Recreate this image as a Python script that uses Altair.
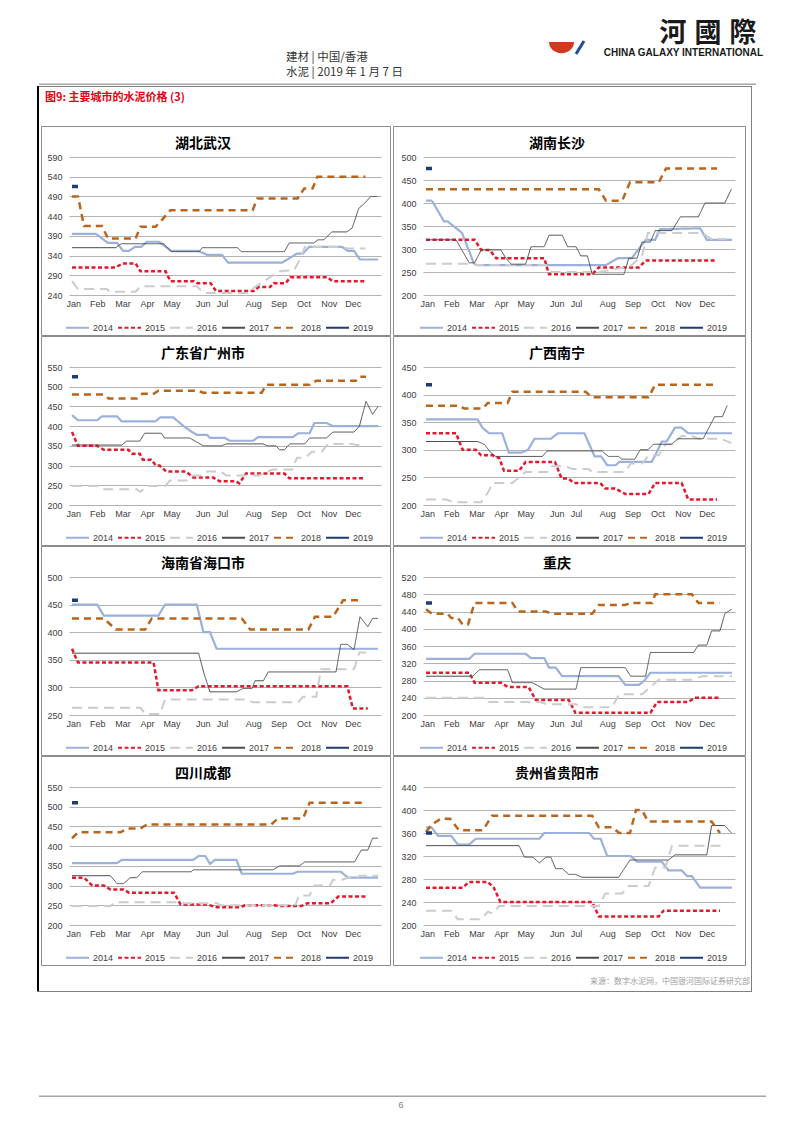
import altair as alt
import pandas as pd

FONT = "Liberation Sans"
CJK = "Noto Sans CJK SC"

YEARS = ["2014", "2015", "2016", "2017", "2018", "2019"]
COLORS = ["#9BB0DB", "#E3192C", "#CCCCCC", "#4D4D4D", "#B8661E", "#1F3C70"]
DASHES = [[1, 0], [4, 2.5], [10, 6], [1, 0], [7, 5], [1, 0]]
WIDTHS = [2.2, 2.5, 2, 1, 2.5, 3.5]

MONTHS = ["Jan", "Feb", "Mar", "Apr", "May", "Jun", "Jul", "Aug", "Sep", "Oct", "Nov", "Dec"]
MONTH_POS = [0.2, 4.2, 8.4, 12.5, 16.6, 21.8, 25.0, 30.2, 34.4, 38.6, 42.8, 46.8]

TITLES = ["湖北武汉", "湖南长沙", "广东省广州市", "广西南宁",
          "海南省海口市", "重庆", "四川成都", "贵州省贵阳市"]

TICKS_WUHAN = [240, 290, 340, 390, 440, 490, 540, 590]
TICKS_CHANGSHA = [200, 250, 300, 350, 400, 450, 500]
TICKS_GUANGZHOU = [200, 250, 300, 350, 400, 450, 500, 550]
TICKS_NANNING = [200, 250, 300, 350, 400, 450]
TICKS_HAIKOU = [250, 300, 350, 400, 450, 500]
TICKS_CHONGQING = [200, 240, 280, 320, 360, 400, 440, 480, 520]
TICKS_CHENGDU = [200, 250, 300, 350, 400, 450, 500, 550]
TICKS_GUIYANG = [200, 240, 280, 320, 360, 400, 440]

# (week index, price) vertices
W_2014 = [(0,395),(4,395),(6,372),(7.5,372),(8.5,352),(9.5,352),(10.5,362),(11.5,362),(12.5,375),(14.5,375),(16,358),(16.5,352),(21,352),(22.5,342),(25,342),(26,322),(35,322),(37.5,345),(38.5,345),(39.5,362),(45,362),(46,352),(47,352),(48,330),(51,330)]
W_2015 = [(0,310),(7.3,310),(8.4,320),(10.6,320),(11.4,300),(15.6,300),(16.4,275),(20.3,275),(20.9,270),(23.1,270),(24,250),(30.3,250),(31.1,260),(33,260),(33.6,270),(35.6,270),(36.4,285),(42.6,285),(43.4,275),(48.9,275)]
W_2016 = [(0,275),(1,255),(5.8,255),(6.3,248),(10.6,248),(11.4,262),(20.8,262),(22,245),(29.2,245),(30.3,258),(33,285),(34.5,300),(37,303),(38,330),(38.8,362),(44.8,362),(46,358),(48.9,358)]
W_2017 = [(0,360),(7.3,360),(8.2,370),(15.3,370),(16.5,350),(21.2,350),(21.7,360),(27.6,360),(28.2,350),(35.4,350),(36.2,372),(40.3,372),(41,380),(42,380),(43.3,400),(45.8,400),(46.7,410),(47.8,460),(48.6,470),(49.8,490),(50.9,490)]
W_2018 = [(0,490),(1,490),(2,415),(5,415),(6,383),(10.6,383),(11.4,413),(13.9,413),(14.8,427),(16.4,455),(30.1,455),(30.9,485),(37.6,485),(38.7,510),(40.1,510),(40.9,540),(48.9,540)]
W_2019 = [(0,515),(1,515)]

C_2014 = [(0,405),(1,405),(3,360),(3.6,360),(6,335),(8,268),(8.5,265),(30,265),(32,280),(34.3,280),(36.6,320),(38.2,320),(39,343),(45.7,345),(46.8,320),(51,320)]
C_2015 = [(0,320),(8.1,320),(9.2,298),(10.6,298),(11.7,280),(19.7,280),(20.5,245),(27.7,245),(28.8,260),(35.5,260),(36.6,275),(48.4,275)]
C_2016 = [(0,268),(8,268),(8.5,265),(20,265),(21,250),(29,250),(31,255),(34,262),(36,285),(37,335),(46,335),(47.5,322),(50,322)]
C_2017 = [(0,320),(5,320),(7.2,270),(8.1,270),(9.2,298),(12.5,298),(13.3,280),(14.2,267),(16.6,267),(17.5,305),(19.7,305),(20.5,330),(22.7,330),(23.6,305),(25,305),(25.8,285),(26.9,285),(27.7,245),(33,245),(33.8,280),(35.2,280),(36,315),(37.4,315),(38.2,340),(41,340),(42.4,370),(45.4,370),(46.5,400),(49.8,400),(50.9,430)]
C_2018 = [(0,430),(28.8,430),(30,405),(32.7,405),(34,445),(38.8,445),(40,475),(48.5,475)]
C_2019 = [(0,475),(1,475)]

G_2014 = [(0,428),(1,415),(4.2,415),(5,425),(7.5,425),(8.3,412),(13.9,412),(14.7,422),(16.9,422),(18.6,400),(20,385),(20.8,378),(22.5,378),(23,370),(25.5,370),(26.3,363),(30.2,363),(31,372),(36.8,372),(37.7,382),(39.6,382),(40.4,408),(42.4,408),(43.5,400),(51,400)]
G_2015 = [(0,385),(1,350),(4.2,350),(5.3,340),(9.4,340),(10,330),(11.3,330),(11.8,315),(13.2,315),(14,300),(14.6,300),(15.7,285),(19,285),(20.2,270),(23.5,270),(24.6,260),(27.3,260),(27.9,255),(29,280),(35.4,280),(36.2,268),(48.9,268)]
G_2016 = [(0,248),(4.1,248),(5.2,240),(10.8,240),(11.4,233),(12.5,248),(15.5,248),(16.3,262),(19.1,262),(19.9,275),(21.8,275),(22.6,285),(24.8,285),(25.7,275),(31.2,275),(33.4,290),(36.7,290),(37.5,320),(38.9,320),(40,335),(41.6,335),(42.7,355),(46.6,355),(47.4,352),(48.5,352)]
G_2017 = [(0,352),(8.3,352),(9.1,362),(11.3,362),(12.1,382),(14.9,382),(15.4,370),(19.6,370),(21.9,350),(24.9,350),(25.7,355),(31.8,355),(32.6,350),(34,350),(34.6,340),(35.4,340),(36.3,355),(38.8,355),(39.6,370),(42.4,370),(43.5,385),(47,385),(47.9,400),(49,463),(50.1,430),(51,450)]
G_2018 = [(0,480),(5.3,480),(6.1,470),(10.8,470),(11.7,482),(13.6,482),(14.4,490),(20.8,490),(21.9,485),(31.6,485),(32.4,505),(39.6,505),(40.7,515),(47.3,515),(47.9,525),(49,525)]
G_2019 = [(0,525),(1,525)]

N_2014 = [(0,355),(8.6,355),(9.4,340),(10.5,330),(12.7,330),(13.8,295),(15.9,295),(17,300),(18.1,320),(20.8,320),(22,330),(26.4,330),(28.1,288),(29.2,288),(30.2,272),(31.6,272),(32.2,278),(37.6,278),(38.2,290),(39.3,315),(40.1,315),(41.5,340),(42.6,340),(43.7,330),(51,330)]
N_2015 = [(0,330),(5,330),(6.1,300),(8.3,300),(9.2,290),(11.1,290),(12.2,285),(13,262),(15.5,262),(16.6,278),(21.5,278),(22.6,248),(23.7,248),(24.6,240),(29,240),(29.9,230),(31.5,230),(33.2,220),(37.1,220),(38.2,240),(42.6,240),(43.7,210),(48.5,210)]
N_2016 = [(0,210),(3.4,210),(4.5,205),(9.2,205),(10.3,222),(11.1,240),(14.4,240),(16.6,260),(20.5,260),(21,270),(23.3,270),(24.4,265),(27.1,265),(27.7,260),(33.2,260),(34.1,275),(36,275),(37.1,290),(38.8,290),(39.9,310),(41,310),(42.6,325),(44.3,325),(45.4,320),(49.2,320),(50.9,312)]
N_2017 = [(0,315),(8.6,315),(9.7,310),(10.8,295),(11.6,288),(19.4,288),(20.2,298),(29.3,298),(30.4,288),(32.1,288),(32.6,283),(34.8,283),(35.7,300),(37,300),(37.9,310),(40.9,310),(42,320),(46.2,320),(48.1,360),(49.4,360),(50.2,380)]
N_2018 = [(0,380),(5.3,380),(6.4,375),(9.5,375),(10.3,385),(13.6,385),(14.4,405),(26.6,405),(27.7,395),(37.1,395),(38.2,418),(48.5,418)]
N_2019 = [(0,418),(1,418)]

H_2014 = [(0,450),(4.2,450),(5.3,430),(14.4,430),(15.5,450),(20.8,450),(21.9,400),(23,400),(24.1,370),(51,370)]
H_2015 = [(0,370),(1,345),(13.6,345),(14.4,295),(20,295),(21.1,302),(45.9,302),(46.8,262),(49.3,262)]
H_2016 = [(0,263),(11.4,263),(12.2,252),(14.7,252),(15.5,278),(29.1,278),(30.2,273),(37.7,273),(38.5,283),(40.7,283),(41.5,333),(47,333),(47.9,363),(49.6,363)]
H_2017 = [(0,362),(21.1,362),(22,325),(23,292),(27.4,292),(28.5,298),(30,298),(30.5,312),(31.9,312),(32.7,328),(44,328),(44.8,378),(45.9,378),(47,368),(48,428),(49.3,410),(50.1,425),(51,425)]
H_2018 = [(0,425),(5.3,425),(7.3,405),(12.2,405),(13.3,425),(28.3,425),(29.7,405),(39.4,405),(40.5,428),(43.5,428),(45.2,458),(48.2,458)]
H_2019 = [(0,458),(1,458)]

Q_2014 = [(0,330),(7.2,330),(8.1,342),(16.6,342),(17.5,332),(19.7,332),(20.5,310),(21.6,310),(22.7,290),(32.1,290),(33.2,270),(35.5,270),(36.4,280),(37.4,298),(51,298)]
Q_2015 = [(0,298),(7.2,298),(8.1,275),(12.5,275),(13.6,265),(17.1,265),(18.3,235),(23.8,235),(24.9,205),(37.4,205),(38.5,230),(43.7,230),(44.8,240),(48.9,240)]
Q_2016 = [(0,240),(9.5,240),(10.3,230),(19,230),(20.1,225),(25,225),(26.1,218),(31,218),(32.2,248),(36,248),(38.8,282),(44.3,282),(46,290),(51,290)]
Q_2017 = [(0,290),(7.8,290),(8.9,305),(13.6,305),(14.4,275),(17.7,275),(19.7,260),(25,260),(25.8,310),(33.2,310),(34.1,290),(36.6,290),(37.4,345),(44.6,345),(45.4,362),(46.8,362),(47.6,395),(49,395),(49.8,435),(50.9,445)]
Q_2018 = [(0,445),(1,435),(3.6,435),(4.2,425),(5.3,425),(6.1,410),(7,410),(8.1,460),(14.4,460),(15.3,440),(20,440),(20.8,435),(27.7,435),(28.8,455),(33.2,455),(34.1,460),(37.7,460),(38.2,480),(44.3,480),(45.4,460),(48.9,460)]
Q_2019 = [(0,460),(1,460)]

D_2014 = [(0,357),(7.5,357),(8.3,365),(20.2,365),(21.1,375),(22.2,375),(23,355),(23.8,365),(27.4,365),(28.3,330),(36.8,330),(37.6,335),(44.8,335),(46,320),(51,320)]
D_2015 = [(0,320),(2,320),(3.4,300),(5.3,300),(6.4,290),(8.6,290),(9.5,282),(17,282),(18.1,252),(22.5,252),(24.2,245),(28.1,245),(28.8,250),(33.7,250),(34.5,248),(38.2,248),(39.2,255),(43.1,255),(44.4,272),(48.9,272)]
D_2016 = [(0,248),(6.4,248),(7.2,258),(18.1,258),(18.7,255),(24.2,255),(24.8,250),(36.4,250),(37.3,252),(37.8,275),(39.6,275),(40.4,300),(43,300),(43.5,315),(45,315),(46,320),(47.4,320),(48,325),(51,325)]
D_2017 = [(0,325),(6.4,325),(7.5,305),(8.6,305),(9.7,320),(10.8,320),(11.7,335),(19.9,335),(20.2,340),(33.5,340),(34.6,350),(37.9,350),(38.8,360),(47.1,360),(48.2,390),(49.3,390),(50.1,420),(51,420)]
D_2018 = [(0,420),(1,435),(8.1,435),(9.3,445),(11.4,445),(12.5,455),(33.2,455),(34.3,470),(38.5,470),(39.6,510),(48.7,510)]
D_2019 = [(0,510),(1,510)]

Y_2014 = [(0,370),(0.9,370),(2,355),(4.2,355),(5.3,340),(7.2,340),(8.3,350),(18.9,350),(19.7,360),(27.2,360),(28,350),(29.1,350),(30.2,320),(34.1,320),(35.2,310),(39.3,310),(40.4,295),(42.6,295),(43.5,285),(44.3,285),(45.7,265),(51,265)]
Y_2015 = [(0,265),(6.1,265),(7.2,275),(10.3,275),(11.3,265),(12.4,240),(27.7,240),(28.8,215),(38.8,215),(39.6,225),(49,225)]
Y_2016 = [(0,225),(4.2,225),(5.3,210),(9.2,210),(10.3,223),(11.1,220),(12.2,233),(28.8,233),(29.9,255),(32.7,255),(33.8,268),(37.1,268),(38.2,300),(39.9,300),(41,338),(49.3,338)]
Y_2017 = [(0,338),(15.5,338),(16.4,318),(17.8,318),(18.9,308),(20,318),(20.8,318),(21.6,298),(22.7,298),(23.8,288),(24.9,288),(26,283),(32.1,283),(34,313),(40.4,313),(41.5,322),(46.8,322),(47.6,373),(49.8,373),(50.9,360)]
Y_2018 = [(0,362),(1,375),(2.5,385),(4,385),(5.5,365),(9.5,365),(11,390),(27.7,390),(28.8,370),(31,370),(32.2,360),(34,360),(35,400),(36,400),(37,380),(47.6,380),(49,360)]
Y_2019 = [(0,360),(1,360)]

PANELS = [
    (TITLES[0], [W_2014, W_2015, W_2016, W_2017, W_2018, W_2019], TICKS_WUHAN),
    (TITLES[1], [C_2014, C_2015, C_2016, C_2017, C_2018, C_2019], TICKS_CHANGSHA),
    (TITLES[2], [G_2014, G_2015, G_2016, G_2017, G_2018, G_2019], TICKS_GUANGZHOU),
    (TITLES[3], [N_2014, N_2015, N_2016, N_2017, N_2018, N_2019], TICKS_NANNING),
    (TITLES[4], [H_2014, H_2015, H_2016, H_2017, H_2018, H_2019], TICKS_HAIKOU),
    (TITLES[5], [Q_2014, Q_2015, Q_2016, Q_2017, Q_2018, Q_2019], TICKS_CHONGQING),
    (TITLES[6], [D_2014, D_2015, D_2016, D_2017, D_2018, D_2019], TICKS_CHENGDU),
    (TITLES[7], [Y_2014, Y_2015, Y_2016, Y_2017, Y_2018, Y_2019], TICKS_GUIYANG),
]

W, H = 312, 138
ONE = pd.DataFrame({"k": [0]})

pos_js = "[" + ",".join(str(p) for p in MONTH_POS) + "]"
mon_js = "[" + ",".join("'%s'" % m for m in MONTHS) + "]"
MONTH_EXPR = "%s[indexof(%s, datum.value)]" % (mon_js, pos_js)


def box(x1, x2, y1, y2, color):
    return alt.Chart(ONE).mark_rect(fill=color, strokeWidth=0).encode(
        x=alt.value(x1), x2=alt.value(x2), y=alt.value(y1), y2=alt.value(y2))


def label(txt, x, y, size, color, align="left", weight="normal", font=CJK):
    return alt.Chart(ONE).mark_text(
        text=txt, align=align, baseline="middle", fontSize=size,
        fontWeight=weight, font=font, color=color).encode(
        x=alt.value(x), y=alt.value(y))


def panel(title, series, ticks, side):
    rows = []
    for yr, pts, sw in zip(YEARS, series, WIDTHS):
        for w, v in pts:
            rows.append({"year": yr, "w": w, "v": v, "sw": sw})
    df = pd.DataFrame(rows)
    leg = alt.Legend(title=None, orient="none", legendX=-4, legendY=158,
                     direction="horizontal", columns=6, symbolType="stroke",
                     symbolSize=529, symbolStrokeWidth=2, labelFontSize=9,
                     labelFont=FONT, labelColor="#404040", labelOffset=3,
                     columnPadding=0, padding=0)
    lines = alt.Chart(df).mark_line(strokeCap="butt").encode(
        x=alt.X("w:Q", scale=alt.Scale(domain=[-0.5, 51.5], nice=False, zero=False),
                axis=alt.Axis(values=MONTH_POS, labelExpr=MONTH_EXPR, grid=False,
                              ticks=False, domain=False, labelFontSize=9,
                              labelFont=FONT, labelColor="#404040", labelPadding=4,
                              labelFlush=False, labelOverlap=False, title=None)),
        y=alt.Y("v:Q", scale=alt.Scale(domain=[ticks[0], ticks[-1]], nice=False, zero=False),
                axis=alt.Axis(values=ticks, grid=True, gridColor="#B3B3B3", gridWidth=1,
                              ticks=False, domain=False, labelFontSize=9, labelFont=FONT,
                              labelColor="#404040", labelPadding=7, labelFlush=False,
                              title=None)),
        color=alt.Color("year:N", scale=alt.Scale(domain=YEARS, range=COLORS), legend=leg),
        strokeDash=alt.StrokeDash("year:N", scale=alt.Scale(domain=YEARS, range=DASHES), legend=leg),
        strokeWidth=alt.StrokeWidth("sw:Q", scale=None, legend=None),
        order=alt.Order("w:Q"),
    )
    if side == "L":
        fx1, fx2 = -27.5, 321.5
        edge = box(-32, -30, -31, 179, "#000000")
    else:
        fx1, fx2 = -29.5, 322.5
        edge = box(328, 329, -31, 179, "#7F7F7F")
    frame = alt.Chart(ONE).mark_rect(fill="transparent", stroke="#8C8C8C", strokeWidth=1).encode(
        x=alt.value(fx1), x2=alt.value(fx2), y=alt.value(-30.5), y2=alt.value(178.5))
    ttl = label(title, 134, -13, 14, "#000000", align="center", weight="bold")
    return alt.layer(frame, edge, ttl, lines).properties(width=W, height=H)


BOWL = "M -1 -0.3 L 1 -0.3 A 1 0.9 0 0 1 -1 -0.3 Z"

# header (coordinates: page x - 68, page y - 8)
header_l = alt.layer(
    box(-60, -59, 0, 1, "#FFFFFF"),
    label("建材 | 中国/香港", 217, 49, 11.5, "#333333"),
    label("水泥 | 2019 年 1 月 7 日", 217, 64, 11.5, "#333333"),
    alt.Chart(ONE).mark_point(shape=BOWL, size=625, filled=True, color="#D2381E",
                              opacity=1, strokeWidth=0).encode(
        x=alt.value(492.5), y=alt.value(36.8)),
    alt.Chart(ONE).mark_rule(color="#1F4C9C", strokeWidth=3).encode(
        x=alt.value(515), y=alt.value(32), x2=alt.value(507), y2=alt.value(45)),
    label("河", 604, 25, 27, "#1A1A1A", align="center", weight="bold"),
    label("國", 639, 25, 27, "#1A1A1A", align="center", weight="bold"),
    label("際", 674, 25, 27, "#1A1A1A", align="center", weight="bold"),
    label("CHINA GALAXY INTERNATIONAL", 694, 44, 10, "#1A1A1A", align="right",
          weight="bold", font=FONT),
    box(-30, 687, 74.5, 76, "#A6A6A6"),
    box(-32, 683, 77, 78, "#7F7F7F"),
    box(-32, -30, 77, 117, "#000000"),
    box(682, 683, 77, 117, "#7F7F7F"),
    label("图9: 主要城市的水泥价格 (3)", -24, 89, 11, "#E60012", weight="bold"),
).properties(width=W, height=76)
header_r = box(0, 1, 0, 1, "#FFFFFF").properties(width=W, height=76)

# footer (coordinates: page x - 68, page y - 996)
footer_l = alt.layer(
    box(-32, -30, -31, -6, "#000000"),
    box(682, 683, -31, -6, "#7F7F7F"),
    box(-32, 683, -6, -5, "#7F7F7F"),
    label("来源：数字水泥网，中国银河国际证券研究部", 681, -15, 8, "#A0A0A0", align="right"),
    box(-30, 697, 98.5, 100, "#A6A6A6"),
    label("6", 332, 108, 9, "#808080", align="center", font=FONT),
).properties(width=W, height=20)
footer_r = box(0, 1, 0, 1, "#FFFFFF").properties(width=W, height=20)

cells = [header_l, header_r]
for i in range(0, 8, 2):
    t1, s1, k1 = PANELS[i]
    t2, s2, k2 = PANELS[i + 1]
    cells.append(panel(t1, s1, k1, "L"))
    cells.append(panel(t2, s2, k2, "R"))
cells += [footer_l, footer_r]

chart = alt.concat(*cells, columns=2, spacing={"row": 72, "column": 42},
                   bounds="flush", align="each").resolve_scale(
    color="independent", strokeDash="independent", x="independent", y="independent"
).properties(padding=0).configure_view(stroke="transparent")

chart.save("out.html", embed_options={"renderer": "svg", "actions": False})
